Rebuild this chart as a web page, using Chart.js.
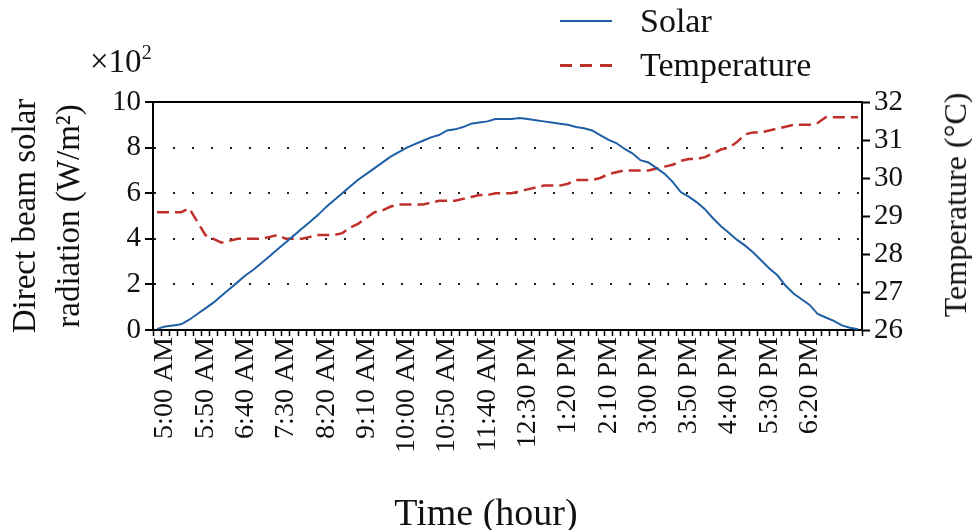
<!DOCTYPE html>
<html><head><meta charset="utf-8">
<script src="https://cdn.jsdelivr.net/npm/chart.js@4.4.1/dist/chart.umd.min.js"></script>
<style>
html,body{margin:0;padding:0;background:#fff;}
#wrap{position:relative;width:972px;height:530px;font-family:"Liberation Serif",serif;color:#111;overflow:hidden;}
canvas{position:absolute;left:0;top:0;}
.txt{position:absolute;white-space:nowrap;line-height:1;}
.lg{position:absolute;left:560px;width:52px;}
</style></head><body>
<div id="wrap">
<canvas id="c" width="972" height="530"></canvas>
<div class="txt" style="left:90px;top:45px;font-size:33px;">×10<span style="font-size:20px;position:relative;top:-13px;">2</span></div>
<div class="lg" style="top:20px;height:2px;background:#1f5fa5;"></div>
<div class="txt" style="left:640px;top:4px;font-size:34px;">Solar</div>
<div class="lg" style="top:64px;height:2.5px;background:repeating-linear-gradient(to right,#c0302a 0 12px,transparent 12px 20px);"></div>
<div class="txt" style="left:640px;top:48px;font-size:34px;">Temperature</div>
<div class="txt" style="left:955px;top:205px;font-size:32px;transform:translate(-50%,-50%) rotate(-90deg);">Temperature (°C)</div>
<div class="txt" id="xt" style="left:486px;top:512px;font-size:38px;transform:translate(-50%,-50%);">Time (hour)</div>
</div>
<script>
const timeLabels = ["4:50 AM","5:00 AM","5:10 AM","5:20 AM","5:30 AM","5:40 AM","5:50 AM","6:00 AM","6:10 AM","6:20 AM","6:30 AM","6:40 AM","6:50 AM","7:00 AM","7:10 AM","7:20 AM","7:30 AM","7:40 AM","7:50 AM","8:00 AM","8:10 AM","8:20 AM","8:30 AM","8:40 AM","8:50 AM","9:00 AM","9:10 AM","9:20 AM","9:30 AM","9:40 AM","9:50 AM","10:00 AM","10:10 AM","10:20 AM","10:30 AM","10:40 AM","10:50 AM","11:00 AM","11:10 AM","11:20 AM","11:30 AM","11:40 AM","11:50 AM","12:00 PM","12:10 PM","12:20 PM","12:30 PM","12:40 PM","12:50 PM","1:00 PM","1:10 PM","1:20 PM","1:30 PM","1:40 PM","1:50 PM","2:00 PM","2:10 PM","2:20 PM","2:30 PM","2:40 PM","2:50 PM","3:00 PM","3:10 PM","3:20 PM","3:30 PM","3:40 PM","3:50 PM","4:00 PM","4:10 PM","4:20 PM","4:30 PM","4:40 PM","4:50 PM","5:00 PM","5:10 PM","5:20 PM","5:30 PM","5:40 PM","5:50 PM","6:00 PM","6:10 PM","6:20 PM","6:30 PM","6:40 PM","6:50 PM","7:00 PM","7:10 PM","7:20 PM"];
const shownTickLabels = ["5:00 AM","5:50 AM","6:40 AM","7:30 AM","8:20 AM","9:10 AM","10:00 AM","10:50 AM","11:40 AM","12:30 PM","1:20 PM","2:10 PM","3:00 PM","3:50 PM","4:40 PM","5:30 PM","6:20 PM"];
// Direct beam solar radiation, x10^2 W/m^2
const solar = [0.05,0.15,0.2,0.25,0.45,0.7,0.95,1.2,1.5,1.8,2.1,2.4,2.65,2.95,3.25,3.55,3.85,4.15,4.45,4.75,5.05,5.4,5.7,6.0,6.3,6.6,6.85,7.1,7.35,7.6,7.8,8.0,8.15,8.3,8.45,8.55,8.75,8.8,8.9,9.05,9.1,9.15,9.25,9.25,9.25,9.3,9.25,9.2,9.15,9.1,9.05,9.0,8.9,8.85,8.75,8.55,8.35,8.2,7.95,7.75,7.45,7.35,7.1,6.85,6.5,6.05,5.85,5.6,5.3,4.9,4.55,4.25,3.95,3.7,3.4,3.05,2.7,2.4,1.95,1.6,1.35,1.1,0.7,0.55,0.4,0.2,0.1,0.03];
// Temperature, deg C
const temperature = [29.1,29.1,29.1,29.1,29.2,28.85,28.5,28.4,28.3,28.35,28.4,28.4,28.4,28.4,28.45,28.5,28.4,28.4,28.4,28.45,28.5,28.5,28.5,28.55,28.7,28.8,28.95,29.1,29.15,29.25,29.3,29.3,29.3,29.3,29.35,29.4,29.4,29.4,29.45,29.5,29.55,29.55,29.6,29.6,29.6,29.65,29.7,29.75,29.8,29.8,29.8,29.85,29.95,29.95,29.95,30.0,30.1,30.15,30.2,30.2,30.2,30.2,30.25,30.3,30.35,30.45,30.5,30.5,30.55,30.65,30.75,30.8,30.95,31.15,31.2,31.2,31.25,31.3,31.35,31.4,31.4,31.4,31.45,31.6,31.6,31.6,31.6,31.6];
const seriesNames = ["Solar","Temperature"];
const leftTitle = ["Direct beam solar","radiation (W/m²)"];

Chart.defaults.font.family = "'Liberation Serif', serif";
Chart.defaults.color = "#111";

new Chart(document.getElementById('c'), {
  type: 'line',
  data: {
    labels: timeLabels,
    datasets: [
      {label: seriesNames[0], data: solar, yAxisID: 'y', borderColor: '#1f5fa5', borderWidth: 2, pointRadius: 0, tension: 0, fill: false},
      {label: seriesNames[1], data: temperature, yAxisID: 'y2', borderColor: '#c0302a', borderWidth: 2.5, borderDash: [12, 6], pointRadius: 0, tension: 0, fill: false}
    ]
  },
  options: {
    responsive: false,
    animation: false,
    events: [],
    layout: {padding: {top: 102, left: 0, right: 0, bottom: 0}},
    plugins: {legend: {display: false}, tooltip: {enabled: false}},
    scales: {
      x: {
        type: 'category', position: 'bottom', offset: true,
        grid: {display: true, offset: true, drawOnChartArea: false, drawTicks: true, tickLength: 6, tickColor: '#000', tickWidth: 1.5},
        border: {display: true, color: '#000', width: 2},
        ticks: {autoSkip: false, maxRotation: 90, minRotation: 90, padding: 1, font: {size: 28},
          callback: function(v, i) { const l = this.getLabelForValue(v); return shownTickLabels.includes(l) ? l : ''; }},
        title: {display: false},
        afterFit: s => { s.height = 200; }
      },
      x2: {
        type: 'category', position: 'top', offset: true,
        grid: {display: false},
        border: {display: true, color: '#000', width: 2},
        ticks: {display: false},
        afterFit: s => { s.height = 0; }
      },
      y: {
        position: 'left', min: 0, max: 10,
        ticks: {stepSize: 2, font: {size: 29}, padding: 4},
        grid: {drawOnChartArea: true, drawTicks: true, tickLength: 8, tickColor: '#000', tickWidth: 2, lineWidth: 2,
          color: c => (c.tick && (c.tick.value === 0 || c.tick.value === 10)) ? 'rgba(0,0,0,0)' : '#222'},
        border: {display: true, color: '#000', width: 2, dash: [2, 17]},
        title: {display: true, text: leftTitle, font: {size: 33, lineHeight: 1.35}, padding: {top: 4, bottom: 0}},
        afterFit: s => { s.width = 153; }
      },
      y2: {
        position: 'right', min: 26, max: 32,
        ticks: {stepSize: 1, font: {size: 29}, padding: 4},
        grid: {drawOnChartArea: false, drawTicks: true, tickLength: 8, tickColor: '#000', tickWidth: 2},
        border: {display: true, color: '#000', width: 2},
        afterFit: s => { s.width = 110; }
      }
    }
  }
});
</script>
</body></html>
